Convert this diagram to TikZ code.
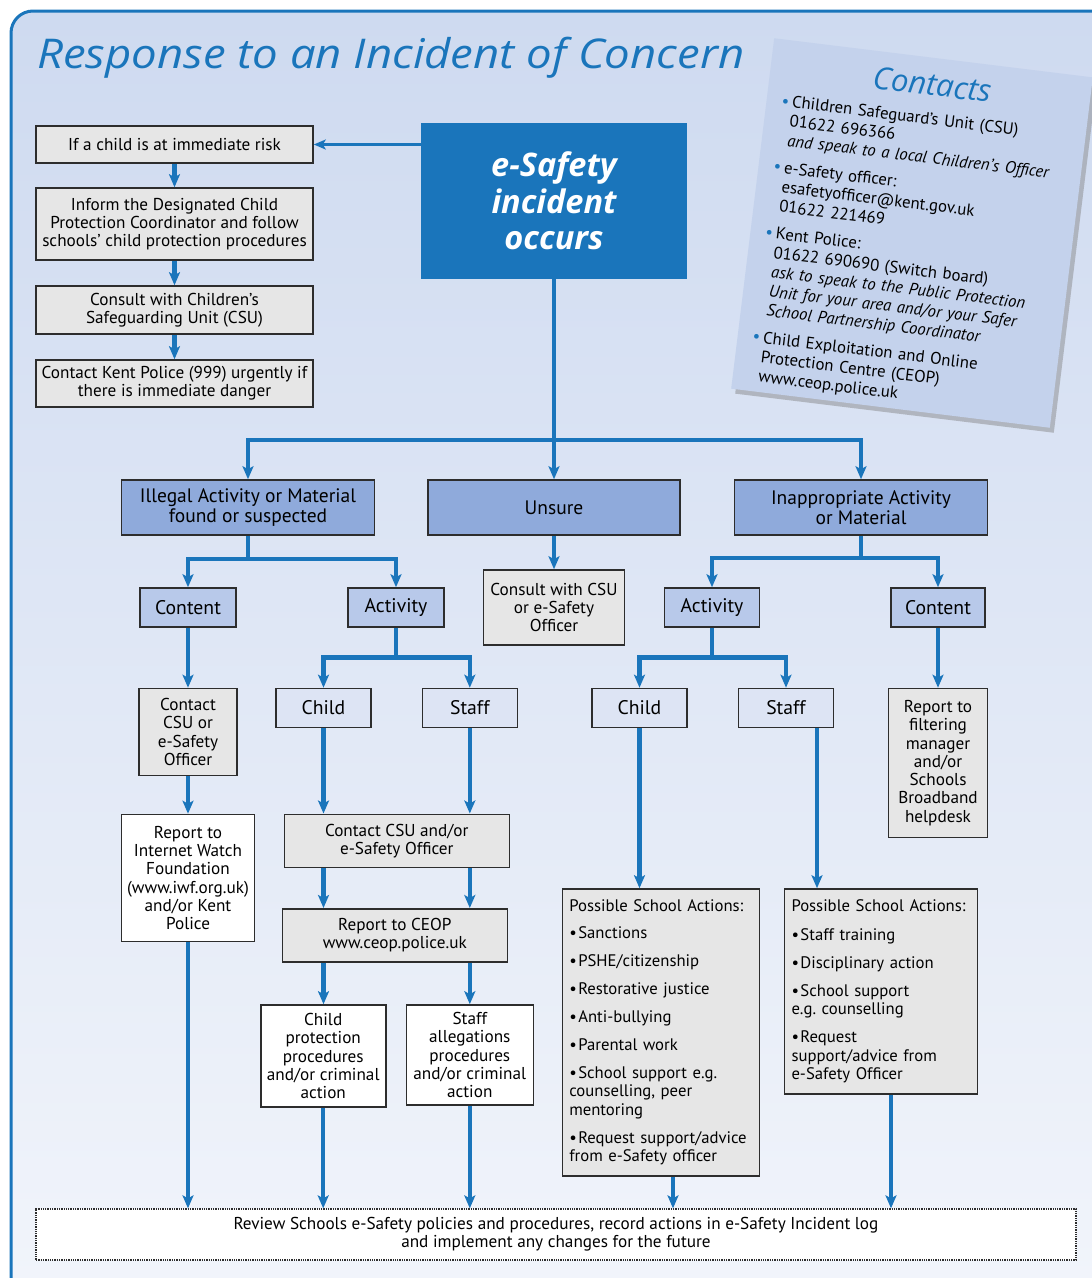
\documentclass[tikz,border=0pt]{standalone}
\usepackage{fontspec}
\setmainfont{PT Sans}
\newfontfamily\titlefont{Open Sans}
\usetikzlibrary{arrows.meta,shadows,calc}
\definecolor{eblue}{RGB}{26,117,187}
\definecolor{lvA}{RGB}{143,170,219}
\definecolor{lvB}{RGB}{184,201,234}
\definecolor{lvC}{RGB}{221,228,244}
\definecolor{gbox}{RGB}{230,230,230}
\definecolor{bord}{RGB}{45,45,45}
\definecolor{bgtop}{RGB}{206,218,240}
\definecolor{bgbot}{RGB}{242,245,251}
\definecolor{cbox}{RGB}{196,210,236}
\frenchspacing
\newcommand\bul[1]{\par\vspace{9.5pt}\hangindent=9pt\hangafter=1\noindent\makebox[9pt][l]{\textbullet}#1}
\newcommand\cbul{\leavevmode\llap{\textcolor{eblue}{\textbullet}\hspace{3pt}}}
\tikzset{
  box/.style={draw=bord, line width=1.6pt, align=center, inner sep=1pt, font=\fontsize{17.2}{18.3}\selectfont},
  grayb/.style={box, fill=gbox},
  whiteb/.style={box, fill=white},
  lvAb/.style={box, fill=lvA, font=\fontsize{19.5}{20.5}\selectfont},
  lvBb/.style={box, fill=lvB, font=\fontsize{19.7}{20}\selectfont},
  lvCb/.style={box, fill=lvC, font=\fontsize{19.7}{20}\selectfont},
  sz/.style 2 args={minimum width=#1, minimum height=#2},
  arr/.style={draw=eblue, line width=4.5pt, -{Stealth[length=13pt,width=11pt,inset=3pt]}},
  arrT/.style={draw=eblue, line width=3pt, -{Stealth[length=12pt,width=10pt,inset=3pt]}},
  actbox/.style={box, fill=gbox, align=left, inner xsep=7pt, inner ysep=0pt, font=\fontsize{16.7}{18.5}\selectfont}
}
\begin{document}
\begin{tikzpicture}[x=1pt,y=-1pt]
\useasboundingbox (0,0) rectangle (1092,1278);
\fill[white] (0,0) rectangle (1092,1278);
\shade[top color=bgtop, bottom color=bgbot, rounded corners=22pt] (11,11) rectangle (1140,1320);
\draw[eblue, line width=3pt, rounded corners=22pt] (11,11) rectangle (1140,1320);

\node[anchor=base west, inner sep=0, text=eblue, font=\titlefont\itshape\fontsize{41}{41}\selectfont] (title) at (37,68) {\scalebox{1.11}[1]{Response to an Incident of Concern}};

% contacts card
\begin{scope}[shift={(912,233)}, rotate=-7]
  \node[transform shape, fill=cbox, sz={321}{353}, drop shadow={shadow xshift=4pt, shadow yshift=-5pt, opacity=0.45}] (contacts) at (0,0) {};
  \node[transform shape, text=eblue, font=\titlefont\itshape\fontsize{31}{31}\selectfont] (chead) at (2,-150) {Contacts};
  \node[transform shape, anchor=north west, inner sep=0, text width=300pt, align=left, font=\fontsize{16.8}{19.4}\selectfont] (clist) at (-135,-122) {%
    \cbul Children Safeguard's Unit (CSU)\\
    01622 696366\\
    \textit{and speak to a local Children's Officer}\\[8pt]
    \cbul e-Safety officer:\\
    esafetyofficer@kent.gov.uk\\
    01622 221469\\[8pt]
    \cbul Kent Police:\\
    01622 690690 (Switch board)\\
    \textit{ask to speak to the Public Protection}\\
    \textit{Unit for your area and/or your Safer}\\
    \textit{School Partnership Coordinator}\\[8pt]
    \cbul Child Exploitation and Online\\
    Protection Centre (CEOP)\\
    www.ceop.police.uk};
\end{scope}

% left column
\node[grayb, sz={277}{37}] (n1) at (174.5,144.5) {If a child is at immediate risk};
\node[grayb, sz={277}{72}] (n2) at (174.5,224) {Inform the Designated Child\\Protection Coordinator and follow\\schools' child protection procedures};
\node[grayb, sz={277}{48}] (n3) at (174.5,310) {Consult with Children's\\Safeguarding Unit (CSU)};
\node[grayb, sz={277}{47}] (n4) at (174.5,383.5) {Contact Kent Police (999) urgently if\\there is immediate danger};

\node[fill=eblue, sz={266}{156}, align=center, text=white, font=\titlefont\bfseries\itshape\fontsize{32.5}{36.5}\selectfont] (es) at (554,201) {e-Safety\\incident\\occurs};

% level 2
\node[lvAb, sz={253}{55}] (illegal) at (248,507.5) {Illegal Activity or Material\\found or suspected};
\node[lvAb, sz={252}{55}] (unsure) at (554,507.5) {Unsure};
\node[lvAb, sz={253}{55}] (inapp) at (861,507.5) {Inappropriate Activity\\or Material};

% level 3
\node[lvBb, sz={96}{39}] (contentL) at (188,607.5) {Content};
\node[lvBb, sz={96}{39}] (activityL) at (396,607.5) {Activity};
\node[grayb, sz={141}{75}] (consult) at (554,607.5) {Consult with CSU\\or e-Safety\\Officer};
\node[lvBb, sz={95}{39}] (activityR) at (712,607.5) {Activity};
\node[lvBb, sz={94}{39}] (contentR) at (938,607.5) {Content};

% level 4
\node[grayb, sz={98}{87}] (contactL) at (188,732) {Contact\\CSU or\\e-Safety\\Officer};
\node[lvCb, sz={95}{39}] (childL) at (323.5,708) {Child};
\node[lvCb, sz={95}{39}] (staffL) at (469.8,708) {Staff};
\node[lvCb, sz={95}{39}] (childR) at (639.5,708) {Child};
\node[lvCb, sz={95}{39}] (staffR) at (786,708) {Staff};
\node[grayb, sz={99}{149}] (filter) at (938,763) {Report to\\filtering\\manager\\and/or\\Schools\\Broadband\\helpdesk};

% level 5
\node[whiteb, sz={133}{127}] (iwf) at (188,878) {Report to\\Internet Watch\\Foundation\\(www.iwf.org.uk)\\and/or Kent\\Police};
\node[grayb, sz={225}{53}] (csu2) at (396.8,840.8) {Contact CSU and/or\\e-Safety Officer};
\node[grayb, sz={225}{53}] (ceop) at (394.8,935.3) {Report to CEOP\\www.ceop.police.uk};
\node[whiteb, sz={125}{102}] (cprot) at (323.2,1056) {Child\\protection\\procedures\\and/or criminal\\action};
\node[whiteb, sz={127}{100}] (salleg) at (469.8,1055) {Staff\\allegations\\procedures\\and/or criminal\\action};

\node[actbox, text width=183pt, minimum height=287] (possL) at (660.8,1032.5) {%
  \noindent Possible School Actions:\vspace{-1pt}
  \bul{Sanctions}
  \bul{PSHE/citizenship}
  \bul{Restorative justice}
  \bul{Anti-bullying}
  \bul{Parental work}
  \bul{School support e.g.\\counselling, peer\\mentoring}
  \bul{Request support/advice\\from e-Safety officer}};
\node[actbox, text width=179pt, minimum height=205] (possR) at (881,991.5) {%
  \noindent Possible School Actions:\vspace{1pt}
  \bul{Staff training}
  \bul{Disciplinary action}
  \bul{School support\\e.g. counselling}
  \bul{Request\\support/advice from\\e-Safety Officer}};

\node[draw=bord, densely dotted, line width=1.3pt, fill=white, sz={1040}{51}, align=center, font=\fontsize{17.2}{18}\selectfont] (review) at (556,1234.5) {Review Schools e-Safety policies and procedures, record actions in e-Safety Incident log\\and implement any changes for the future};

% connectors
\draw[arrT] (es.west |- n1.east) -- (n1.east);
\draw[arr] (n1) -- (n2);
\draw[arr] (n2) -- (n3);
\draw[arr] (n3) -- (n4);
\coordinate (j1) at (554,440);
\draw[arr] (es.south) -- (unsure.north);
\draw[arr] (j1) -| (illegal.north);
\draw[arr] (j1) -| (inapp.north);
\draw[arr] (illegal.south) -- ++(0,23) -| (contentL.north);
\draw[arr] (illegal.south) -- ++(0,23) -| (activityL.north);
\draw[arr] (unsure) -- (consult);
\draw[arr] (inapp.south) -- ++(0,22) -| (activityR.north);
\draw[arr] (inapp.south) -- ++(0,22) -| (contentR.north);
\draw[arr] (activityL.south) -- ++(0,29.5) -| (childL.north);
\draw[arr] (activityL.south) -- ++(0,29.5) -| (staffL.north);
\draw[arr] (activityR.south) -- ++(0,29.5) -| (childR.north);
\draw[arr] (activityR.south) -- ++(0,29.5) -| (staffR.north);
\draw[arr] (contentL) -- (contactL);
\draw[arr] (contactL) -- (iwf);
\draw[arr] (contentR) -- (filter);
\draw[arr] (childL.south) -- (childL.south |- csu2.north);
\draw[arr] (staffL.south) -- (staffL.south |- csu2.north);
\draw[arr] (childL.south |- csu2.south) -- (childL.south |- ceop.north);
\draw[arr] (staffL.south |- csu2.south) -- (staffL.south |- ceop.north);
\draw[arr] (childL.south |- ceop.south) -- (childL.south |- cprot.north);
\draw[arr] (staffL.south |- ceop.south) -- (staffL.south |- salleg.north);
\draw[arr] (iwf.south) -- (iwf.south |- review.north);
\draw[arr] (cprot.south) -- (cprot.south |- review.north);
\draw[arr] (salleg.south) -- (salleg.south |- review.north);
\draw[arr] (childR.south) -- (childR.south |- possL.north);
\coordinate (xs) at (817,0);
\coordinate (xl) at (673,0);
\coordinate (xr) at (891,0);
\draw[arr] (staffR.south -| xs) -- (possR.north -| xs);
\draw[arr] (possL.south -| xl) -- (review.north -| xl);
\draw[arr] (possR.south -| xr) -- (review.north -| xr);
\end{tikzpicture}
\end{document}
